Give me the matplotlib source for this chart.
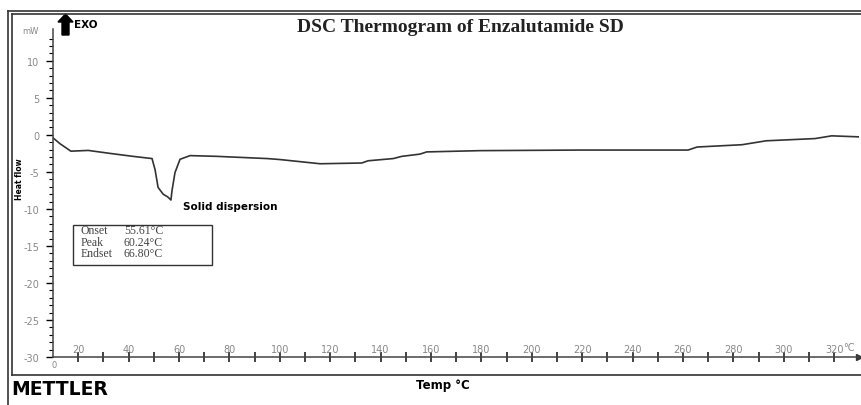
"""DSC thermogram of Enzalutamide solid dispersion (Mettler style)."""

import matplotlib
matplotlib.use("Agg")
import matplotlib.pyplot as plt
from matplotlib.lines import Line2D
from matplotlib.patches import Rectangle, FancyArrow

# curve
temp_c = [10, 12.8, 17.1, 24, 32.6, 41.7, 49.3, 50.5, 51.7, 53.7, 55.6, 56.8,
          57.2, 58.4, 60.4, 64.4, 75, 95, 100, 116, 132.5, 135, 145, 148.4,
          155.6, 158.3, 179.4, 219, 262, 265.6, 283.4, 293, 312.4, 319, 330]
heat_flow = [-0.4, -1.2, -2.2, -2.1, -2.5, -2.9, -3.2, -4.7, -7.1, -8.0, -8.4, -8.8,
             -7.6, -5.1, -3.3, -2.8, -2.9, -3.2, -3.33, -3.9, -3.8, -3.5, -3.2, -2.9,
             -2.6, -2.3, -2.13, -2.05, -2.05, -1.64, -1.33, -0.8, -0.5, -0.13, -0.27]

x_major = list(range(20, 321, 20))
x_minor = list(range(30, 321, 20))
y_major = list(range(-30, 11, 5))
y_minor = list(range(-30, 14, 1))

box_labels = ["Onset", "Peak", "Endset"]
box_values = ["55.61\u00b0C", "60.24\u00b0C", "66.80\u00b0C"]

W, H = 862, 406
fig = plt.figure(figsize=(W / 100, H / 100), dpi=100)


def fx(px):
    return px / W


def fy(py):
    return 1 - py / H


ax = fig.add_axes([fx(53), fy(358), fx(806.4), fy(30) - fy(358)])
ax.plot(temp_c, heat_flow, color="#333333", linewidth=1.2)
ax.set_xlim(10, 330)
ax.set_ylim(-30, 14.3)

for s in ["top", "right"]:
    ax.spines[s].set_visible(False)
for s in ["left", "bottom"]:
    ax.spines[s].set_color("#444444")
    ax.spines[s].set_linewidth(1.1)

ax.set_xticks(x_major)
ax.set_xticks(x_minor, minor=True)
ax.tick_params(axis="x", which="both", direction="inout", length=7, width=1.2,
               color="#222222", labelsize=7, labelcolor="#888888", pad=-13)
ax.set_yticks(y_major)
ax.set_yticks(y_minor, minor=True)
ax.set_yticklabels([str(v) for v in y_major])
ax.tick_params(axis="y", which="major", direction="out", length=5, width=1,
               labelsize=7, labelcolor="#888888", pad=5)
ax.tick_params(axis="y", which="minor", direction="out", length=3, width=0.8)

ax.plot([330], [-30], marker=">", color="#333333", markersize=5, clip_on=False)
ax.text(326, -28.6, "\u00b0C", fontsize=7, color="#888888", ha="center", va="center")

# labels around the axes
fig.text(fx(30), fy(31), "mW", fontsize=6, color="#888888", ha="center", va="center")
fig.text(fx(54), fy(366), "0", fontsize=6, color="#888888", ha="center", va="center")
fig.text(fx(20), fy(179), "Heat flow", fontsize=5.5, fontweight="bold",
         rotation=90, ha="center", va="center")
fig.text(fx(443), fy(386), "Temp \u00b0C", fontsize=8.5, fontweight="bold",
         ha="center", va="center")
fig.text(fx(460), fy(28), "DSC Thermogram of Enzalutamide SD", fontsize=14,
         fontweight="bold", family="Liberation Serif", ha="center", va="center",
         color="#222222")
fig.text(fx(11), fy(390), "METTLER", fontsize=13.5, fontweight="bold",
         ha="left", va="center")

# exo arrow
fig.add_artist(FancyArrow(fx(65.5), fy(36), 0, fy(15) - fy(36), width=fx(7),
                          head_width=fx(15), head_length=fy(0) - fy(8),
                          length_includes_head=True, color="black",
                          transform=fig.transFigure))
fig.text(fx(74), fy(25), "EXO", fontsize=7.5, fontweight="bold", ha="left", va="center")

# peak annotation and result box
ax.text(61.6, -9.6, "Solid dispersion", fontsize=7.5, fontweight="bold",
        ha="left", va="center")
fig.add_artist(Rectangle((fx(73), fy(266)), fx(139), fy(226) - fy(266), fill=False,
                         edgecolor="#333333", linewidth=1, transform=fig.transFigure))
for i, (lab, val) in enumerate(zip(box_labels, box_values)):
    yy = fy(231.5 + i * 11.2)
    fig.text(fx(81), yy, lab, fontsize=8.5, family="Liberation Serif",
             color="#444444", ha="left", va="center")
    fig.text(fx(124), yy, val, fontsize=8.5, family="Liberation Serif",
             color="#444444", ha="left", va="center")

# instrument frame
frame = [
    ([8, 862], [12, 12]), ([12, 862], [15, 15]),
    ([8, 8], [12, 406]), ([11.7, 11.7], [15, 376]),
    ([11.7, 862], [376, 376]),
]
for xs, ys in frame:
    fig.add_artist(Line2D([fx(v) for v in xs], [fy(v) for v in ys],
                          color="#333333", linewidth=1.2, transform=fig.transFigure))

fig.savefig("out.png", dpi=100)
plt.close(fig)
